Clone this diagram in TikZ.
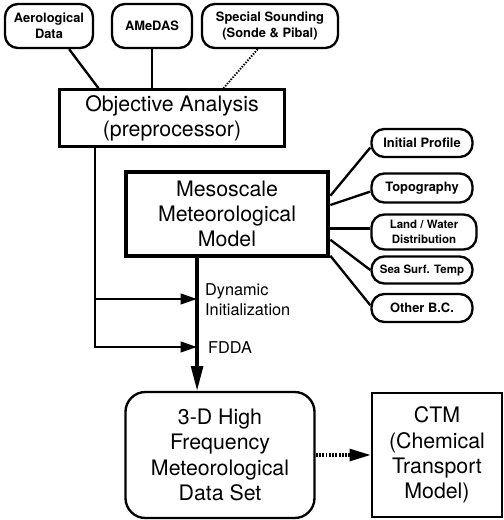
\documentclass[tikz,border=0pt]{standalone}
\usepackage{fontspec}
\setmainfont{TeX Gyre Heros}
\usetikzlibrary{arrows.meta}

\begin{document}
\begin{tikzpicture}[x=0.03cm,y=-0.03cm,line width=2pt,
        pill/.style={draw,rounded corners=11pt,align=center,inner sep=0pt,
            font=\fontsize{11}{14}\selectfont\bfseries},
        bigbox/.style={draw,align=center,inner sep=0pt,
            font=\fontsize{18.2}{21.5}\selectfont},
        tip/.style={-{Triangle[length=14pt,width=9pt]}}]
    \useasboundingbox (0,0) rectangle (504,520);
    % data sources
    \node[pill,minimum width=2.64cm,minimum height=1.32cm] (aero) at (49,26) {Aerological\\Data};
    \node[pill,minimum width=2.4cm,minimum height=1.32cm] (amedas) at (152,26) {AMeDAS};
    \node[pill,minimum width=4.08cm,minimum height=1.32cm] (special) at (270,26) {Special Sounding\\(Sonde \& Pibal)};
    \node[bigbox,minimum width=6.75cm,minimum height=1.71cm] (objective) at (172,118) {Objective Analysis\\(preprocessor)};
    \draw (aero.-49) -- (objective.158);
    \draw (amedas.south) -- (amedas.south |- objective.north);
    \draw[line width=1.6pt,dash pattern=on 1.2pt off 1.2pt] (special.-118.6) -- (objective.30.3);
    % model and boundary data
    \node[bigbox,line width=4pt,minimum width=6.06cm,minimum height=2.52cm] (model) at (227,214) {Mesoscale\\Meteorological\\Model};
    \node[pill,minimum width=3.03cm,minimum height=0.84cm] (profile) at (422,143) {Initial Profile};
    \node[pill,minimum width=3.03cm,minimum height=0.87cm] (topo) at (422,188) {Topography};
    \node[pill,minimum width=3.15cm,minimum height=1.05cm,font=\fontsize{9.8}{13}\selectfont\bfseries] (land) at (424,232) {Land / Water\\Distribution};
    \node[pill,minimum width=3.03cm,minimum height=0.81cm,font=\fontsize{9.8}{12}\selectfont\bfseries] (sst) at (422,270) {Sea Surf. Temp};
    \node[pill,minimum width=3.03cm,minimum height=0.84cm] (other) at (422,308) {Other B.C.};
    \draw (model.10.7) -- (profile.185);
    \draw (model.5.1) -- (topo.184.5);
    \draw (model.-8) -- (model.-8 -| land.west);
    \draw (model.-14.4) -- (sst.west);
    \draw (model.-22.1) -- (other.177);
    % output
    \node[bigbox,rounded corners=17pt,minimum width=5.67cm,minimum height=3.78cm] (hfdata) at (220,455) {3-D High\\Frequency\\Meteorological\\Data Set};
    \node[bigbox,minimum width=3.9cm,minimum height=3.72cm] (ctm) at (437,455) {CTM\\(Chemical\\Transport\\Model)};
    \draw[line width=2.8pt,-{Triangle[length=21pt,width=10pt]}] (model.-124.6) -- (model.-124.6 |- hfdata.north);
    \coordinate (dyn) at (197,299);
    \coordinate (fdda) at (197,347);
    \draw[tip] (objective.-159.4) |- (fdda);
    \draw[tip] (objective.-159.4 |- dyn) -- (dyn);
    \node[anchor=west,align=left,inner sep=0pt,font=\fontsize{13.9}{17}\selectfont] (dyntext) at (204,300) {Dynamic\\Initialization};
    \node[anchor=west,inner sep=0pt,font=\fontsize{13.9}{17}\selectfont] (fddatext) at (207,348) {FDDA};
    \draw[line width=2.8pt,dash pattern=on 1.6pt off 1.2pt,-{Triangle[length=18pt,width=10pt]}] (hfdata.east) -- (ctm.west);
\end{tikzpicture}
\end{document}
